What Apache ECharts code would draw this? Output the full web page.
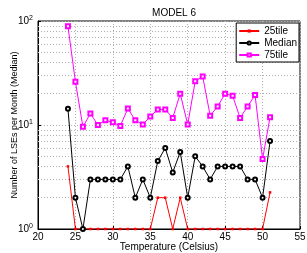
<!DOCTYPE html>
<html>
<head>
<meta charset="utf-8">
<script src="https://cdn.jsdelivr.net/npm/echarts@6/dist/echarts.min.js"></script>
<style>
  html, body { margin: 0; padding: 0; background: #fff; }
  #chart { width: 307px; height: 253px; }
</style>
</head>
<body>
<div id="chart"></div>
<script>
  // temperatures (Celsius)
  var temps = [24, 25, 26, 27, 28, 29, 30, 31, 32, 33, 34, 35, 36, 37,
               38, 39, 40, 41, 42, 43, 44, 45, 46, 47, 48, 49, 50, 51]
  var p25 = [4, 1, 1, 1, 1, 1, 1, 1, 1, 1, 1, 1, 2, 2,
             1, 2, 1, 1, 1, 1, 1, 1, 1, 1, 1, 1, 1, 2.25]
  var median = [14.3, 2, 1, 3, 3, 3, 3, 3, 4, 2, 3, 2, 4.5, 6,
                3.5, 5.5, 2, 5, 4, 3, 4, 4, 4, 4, 3, 3, 2, 7]
  var p75 = [89, 26, 9.6, 12.9, 10, 11.1, 10.6, 9.8, 14.4, 11.1, 10.1, 12.1, 14.1, 14.1,
             11.7, 20, 10.1, 26.3, 29.3, 12.3, 15.1, 20, 19.1, 11.7, 15.1, 19.4, 4.7, 11.9]
  var minorGrid = [2, 3, 4, 5, 6, 7, 8, 9, 20, 30, 40, 50, 60, 70, 80, 90]

  function pairs(ys) {
    return temps.map(function (t, i) { return [t, ys[i]] })
  }

  var font = 'Liberation Sans, Arial, sans-serif'
  var gridLine = { color: '#b0b0b0', type: [1, 2], width: 1 }

  var chart = echarts.init(document.getElementById('chart'))
  chart.setOption({
    animation: false,
    textStyle: { fontFamily: font },
    title: {
      text: 'MODEL 6',
      left: 169,
      textAlign: 'center',
      top: 3,
      textStyle: { fontSize: 10, fontWeight: 'normal', color: '#000', fontFamily: font }
    },
    grid: {
      left: 38, right: 7, top: 21, bottom: 24,
      outerBoundsMode: 'none',
      containLabel: false,
      show: true, borderColor: '#000', borderWidth: 1
    },
    legend: {
      orient: 'vertical',
      right: 8,
      top: 23,
      backgroundColor: '#fff',
      borderColor: '#000',
      borderWidth: 1,
      borderRadius: 0,
      padding: [2, 2, 1, 2],
      itemGap: 0,
      itemWidth: 20,
      itemHeight: 4,
      textStyle: { fontSize: 10, lineHeight: 12, color: '#000', fontFamily: font },
      data: ['25tile', 'Median', '75tile']
    },
    xAxis: {
      type: 'value',
      min: 20, max: 55, interval: 5,
      name: 'Temperature (Celsius)',
      nameLocation: 'middle',
      nameGap: 13,
      nameMoveOverlap: false,
      nameTextStyle: { fontSize: 10, color: '#000', fontFamily: font },
      axisLine: { lineStyle: { color: '#000' } },
      axisTick: { inside: true, length: 3, lineStyle: { color: '#000' } },
      axisLabel: { fontSize: 10, color: '#000', margin: 3, fontFamily: font },
      splitLine: { show: true, lineStyle: gridLine }
    },
    yAxis: {
      type: 'log',
      logBase: 10,
      min: 1, max: 100,
      name: 'Number of LSEs per Month (Median)',
      nameLocation: 'middle',
      nameGap: 19,
      nameMoveOverlap: false,
      nameRotate: 90,
      nameTextStyle: { fontSize: 9, color: '#000', fontFamily: font },
      axisLine: { show: true, lineStyle: { color: '#000' } },
      axisTick: { inside: true, length: 3, lineStyle: { color: '#000' } },
      axisLabel: {
        color: '#000',
        margin: 5,
        formatter: function (v) {
          return '10{s|' + Math.round(Math.log10(v)) + '}'
        },
        rich: {
          s: { fontSize: 7, verticalAlign: 'top', padding: [0, 0, 6, 0], color: '#000', fontFamily: font }
        },
        fontSize: 10,
        fontFamily: font
      },
      splitLine: { show: true, lineStyle: gridLine }
    },
    series: [
      {
        name: '25tile',
        type: 'line',
        data: pairs(p25),
        color: '#ff0000',
        symbol: 'rect',
        symbolSize: 2.5,
        lineStyle: { width: 1 },
        z: 3,
        markLine: {
          silent: true,
          symbol: 'none',
          label: { show: false },
          lineStyle: gridLine,
          z: 1,
          data: minorGrid.map(function (v) { return { yAxis: v } })
        }
      },
      {
        name: 'Median',
        type: 'line',
        data: pairs(median),
        color: '#000',
        symbol: 'emptyCircle',
        symbolSize: 4,
        lineStyle: { width: 1 },
        itemStyle: { borderWidth: 1 },
        z: 4
      },
      {
        name: '75tile',
        type: 'line',
        data: pairs(p75),
        color: '#ff00ff',
        symbol: 'emptyRect',
        symbolSize: 4,
        lineStyle: { width: 1 },
        itemStyle: { borderWidth: 1 },
        z: 5
      }
    ]
  })
</script>
</body>
</html>
